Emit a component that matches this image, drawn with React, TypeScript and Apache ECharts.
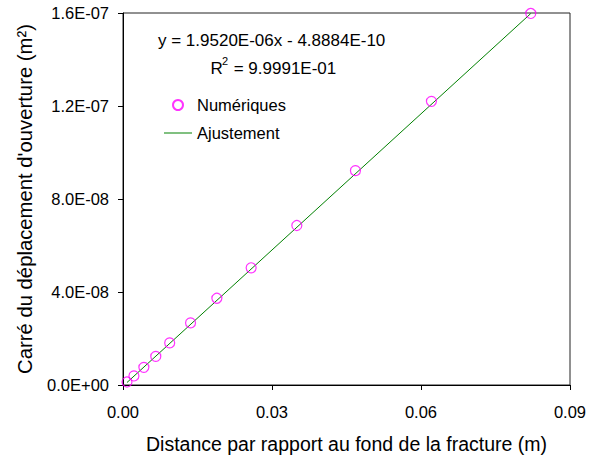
import React, { useEffect, useRef } from "react";
import * as echarts from "echarts";

const xValues = [0.0008, 0.0022, 0.0042, 0.0066, 0.0094, 0.0136, 0.0189, 0.0258, 0.035, 0.0468, 0.0621, 0.0821];
const yValues = [1.3e-9, 3.9e-9, 7.6e-9, 1.23e-8, 1.81e-8, 2.67e-8, 3.73e-8, 5.04e-8, 6.86e-8, 9.22e-8, 1.22e-7, 1.598e-7];
const FIT_SLOPE = 1.952e-6;
const FIT_INTERCEPT = -4.8884e-10;
const fitX = [0.0008, 0.0821];
const seriesNames = ["Numériques", "Ajustement"];
const equationText = "y = 1.9520E-06x - 4.8884E-10";
const r2Value = "9.9991E-01";
const xTitle = "Distance par rapport au fond de la fracture (m)";
const yTitle = "Carré du déplacement d'ouverture (m²)";

const FONT = "'Liberation Sans', Arial, sans-serif";

function sci(v: number): string {
  if (v === 0) return "0.0E+00";
  const [m, e] = v.toExponential(1).split("e");
  const n = parseInt(e, 10);
  const s = n < 0 ? "-" : "+";
  return `${m}E${s}${String(Math.abs(n)).padStart(2, "0")}`;
}

export default function App() {
  const ref = useRef<HTMLDivElement>(null);
  useEffect(() => {
    if (!ref.current) return;
    const chart = echarts.init(ref.current, null, { renderer: "svg" });
    const points = xValues.map((x, i) => [x, yValues[i]]);
    const fit = fitX.map((x) => [x, FIT_SLOPE * x + FIT_INTERCEPT]);
    chart.setOption({
      animation: false,
      backgroundColor: "#fff",
      grid: {
        left: 123,
        right: 23,
        top: 13,
        bottom: 70,
        show: true,
        borderColor: "#222",
        borderWidth: 1,
        backgroundColor: "transparent",
      },
      xAxis: {
        type: "value",
        min: 0,
        max: 0.09,
        interval: 0.03,
        name: xTitle,
        nameLocation: "middle",
        nameGap: 49,
        nameTextStyle: { fontFamily: FONT, fontSize: 19.5, color: "#000" },
        axisLine: { onZero: false, lineStyle: { color: "#000", width: 1 } },
        axisTick: { show: true, inside: false, length: 5, lineStyle: { color: "#000" } },
        axisLabel: {
          margin: 18,
          fontFamily: FONT,
          fontSize: 16.5,
          color: "#000",
          formatter: (v: number) => v.toFixed(2),
        },
        splitLine: { show: false },
      },
      yAxis: {
        type: "value",
        min: 0,
        max: 1.6e-7,
        interval: 4e-8,
        name: yTitle,
        nameLocation: "middle",
        nameGap: 88,
        nameRotate: 90,
        nameTextStyle: { fontFamily: FONT, fontSize: 20.3, color: "#000" },
        axisLine: { onZero: false, lineStyle: { color: "#000", width: 1 } },
        axisTick: { show: true, inside: false, length: 5, lineStyle: { color: "#000" } },
        axisLabel: {
          margin: 14,
          fontFamily: FONT,
          fontSize: 16.5,
          color: "#000",
          formatter: (v: number) => sci(v),
        },
        splitLine: { show: false },
      },
      legend: {
        orient: "vertical",
        left: 159,
        top: 91,
        itemWidth: 28,
        itemHeight: 10,
        itemGap: 10,
        symbolKeepAspect: true,
        textStyle: { fontFamily: FONT, fontSize: 16.5, color: "#000", lineHeight: 18 },
        data: [
          { name: seriesNames[0], icon: "circle" },
          {
            name: seriesNames[1],
            icon: "path://M0,0L28,0L28,1L0,1Z",
            itemStyle: { color: "#008000", borderWidth: 0 },
          },
        ],
      },
      graphic: [
        {
          type: "text",
          x: 158,
          y: 40,
          style: {
            text: equationText,
            fontFamily: FONT,
            fontSize: 17,
            fill: "#000",
            verticalAlign: "middle",
          },
        },
        {
          type: "text",
          x: 210.5,
          y: 68,
          style: {
            text: "R",
            fontFamily: FONT,
            fontSize: 17,
            fill: "#000",
            verticalAlign: "middle",
          },
        },
        {
          type: "text",
          x: 222,
          y: 61,
          style: {
            text: "2",
            fontFamily: FONT,
            fontSize: 11,
            fill: "#000",
            verticalAlign: "middle",
          },
        },
        {
          type: "text",
          x: 229,
          y: 68,
          style: {
            text: " = " + r2Value,
            fontFamily: FONT,
            fontSize: 17,
            fill: "#000",
            verticalAlign: "middle",
          },
        },
      ],
      series: [
        {
          name: seriesNames[0],
          type: "scatter",
          data: points,
          symbol: "circle",
          symbolSize: 10,
          itemStyle: { color: "rgba(255,255,255,0)", borderColor: "#ff00ff", borderWidth: 1.2 },
          z: 3,
        },
        {
          name: seriesNames[1],
          type: "line",
          data: fit,
          showSymbol: false,
          symbol: "none",
          lineStyle: { color: "#008000", width: 1 },
          itemStyle: { color: "#008000" },
          z: 2,
        },
      ],
    });
    return () => chart.dispose();
  }, []);
  return (
    <div
      ref={ref}
      style={{ position: "absolute", left: 0, top: 0, width: 593, height: 459 }}
    />
  );
}
